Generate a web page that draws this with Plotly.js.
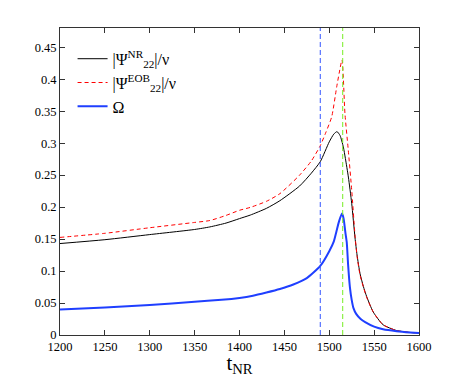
<!DOCTYPE html>
<html>
<head>
<meta charset="utf-8">
<script src="https://cdn.plot.ly/plotly-3.0.1.min.js"></script>
<style>html,body{margin:0;padding:0;background:#fff;}#chart{width:463px;height:377px;}</style>
</head>
<body>
<div id="chart"></div>
<script>
// NR amplitude |Psi22^NR|/nu
const tNR = [1200,1250,1300,1350,1367,1385,1400,1412,1430,1445,1467,1480,1490,1500,1505,1508.6,1512,1515.7,1518,1521.3,1525,1528.7,1531,1534.3,1538,1541.7,1549,1560,1575,1590,1600];
const ampNR = [0.143,0.149,0.157,0.165,0.169,0.175,0.182,0.1875,0.198,0.210,0.233,0.253,0.271,0.302,0.314,0.318,0.312,0.294,0.276,0.247,0.206,0.152,0.125,0.096,0.076,0.060,0.036,0.016,0.007,0.004,0.003];
// EOB amplitude |Psi22^EOB|/nu
const tEOB = [1200,1250,1300,1350,1367,1385,1400,1412,1430,1445,1467,1480,1490,1496,1502.7,1508.3,1511,1514.2,1517.5,1521.2,1525,1528.7,1531,1534.3,1538,1541.7,1549,1560,1575,1590,1600];
const ampEOB = [0.1526,0.159,0.1677,0.176,0.179,0.187,0.195,0.1995,0.209,0.221,0.25,0.272,0.296,0.316,0.341,0.388,0.409,0.430,0.346,0.289,0.227,0.156,0.123,0.094,0.075,0.059,0.036,0.016,0.007,0.004,0.003];
// Orbital frequency Omega
const tOm = [1200,1250,1300,1350,1380,1400,1415,1430,1445,1460,1475,1490,1500,1505,1508,1511,1514.2,1516,1518,1519.5,1521,1523,1525,1527,1530,1535,1540,1550,1560,1575,1590,1600];
const omega = [0.040,0.043,0.047,0.052,0.055,0.058,0.0615,0.0665,0.072,0.079,0.089,0.108,0.131,0.146,0.162,0.178,0.190,0.182,0.160,0.145,0.110,0.075,0.055,0.042,0.033,0.025,0.020,0.013,0.009,0.006,0.004,0.003];
// vertical reference times
const refTimes = [1490, 1515];
const refColors = ['#3355ff', '#77ee22'];
const seriesNames = ['|Ψ<sup>NR</sup><sub>22</sub>|/ν', '|Ψ<sup>EOB</sup><sub>22</sub>|/ν', 'Ω'];

const serif = 'Liberation Serif';
const traces = [
  {x: tNR, y: ampNR, name: seriesNames[0], mode: 'lines', line: {color: '#000', width: 1, shape: 'spline', smoothing: 0.6}},
  {x: tEOB, y: ampEOB, name: seriesNames[1], mode: 'lines', line: {color: '#ff0000', width: 1, dash: '4px,3px', shape: 'spline', smoothing: 0.6}},
  {x: tOm, y: omega, name: seriesNames[2], mode: 'lines', line: {color: '#1f3fff', width: 2, shape: 'spline', smoothing: 0.6}}
];
const shapes = refTimes.map((t, i) => ({
  type: 'line', xref: 'x', yref: 'paper', x0: t, x1: t, y0: 0, y1: 1,
  line: {color: refColors[i], width: 1, dash: '5px,3px'}
}));
const layout = {
  width: 463, height: 377,
  margin: {l: 60, r: 44, t: 28, b: 42},
  paper_bgcolor: '#fff', plot_bgcolor: '#fff',
  showlegend: true,
  font: {family: serif, size: 12, color: '#000'},
  legend: {x: 0.035, y: 0.955, xanchor: 'left', yanchor: 'top', bgcolor: 'rgba(0,0,0,0)',
           font: {family: serif, size: 16}, itemwidth: 30, tracegroupgap: 6},
  xaxis: {range: [1200, 1600], tick0: 1200, dtick: 50, ticks: 'inside', ticklen: 5,
          showline: true, mirror: 'ticks', linecolor: '#333', tickcolor: '#333', linewidth: 1,
          showgrid: false, zeroline: false,
          tickfont: {family: serif, size: 12.5},
          title: {text: 't<sub>NR</sub>', font: {family: serif, size: 21}, standoff: 7}},
  yaxis: {range: [0, 0.48], tick0: 0, dtick: 0.05, ticks: 'inside', ticklen: 5,
          showline: true, mirror: 'ticks', linecolor: '#333', tickcolor: '#333', linewidth: 1,
          showgrid: false, zeroline: false,
          tickfont: {family: serif, size: 12.5}},
  shapes: shapes
};
Plotly.newPlot('chart', traces, layout, {displayModeBar: false, staticPlot: true});
</script>
</body>
</html>
